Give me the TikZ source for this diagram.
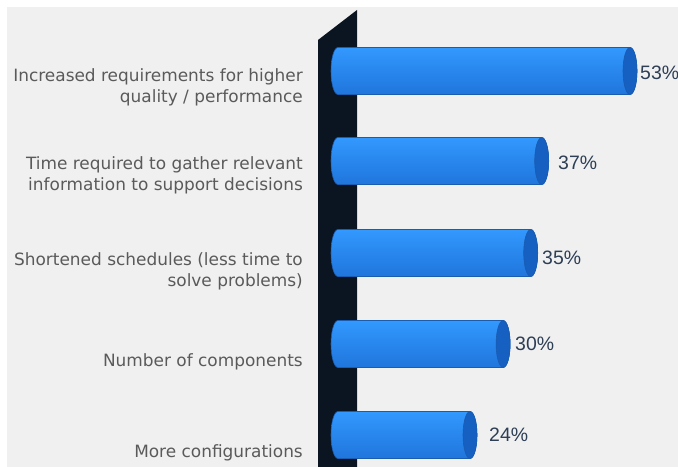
\documentclass[tikz,border=0pt]{standalone}
\usepackage{fontspec}
\setmainfont{DejaVu Sans}
\newfontfamily\pctfont{Liberation Sans}
\definecolor{bgc}{HTML}{F0F0F0}
\definecolor{wallc}{HTML}{0B1521}
\definecolor{bbot}{HTML}{1450A8}
\definecolor{bbotb}{HTML}{1C6FD6}
\definecolor{bmid}{HTML}{2A8AF0}
\definecolor{blight}{HTML}{3399FF}
\definecolor{btop}{HTML}{2B85E8}
\definecolor{bedge}{HTML}{1A5CB0}
\definecolor{capc}{HTML}{1660C2}
\definecolor{labc}{HTML}{5A5A5A}
\definecolor{pctc}{HTML}{2D3E55}
\pgfdeclareverticalshading{barshade}{100bp}{color(0bp)=(bbot); color(15bp)=(bbotb); color(55bp)=(bmid); color(75bp)=(blight); color(95bp)=(btop); color(100bp)=(btop)}
\newcommand\drawbar[2]{%
  \pgfmathsetmacro\rc{#2-7}%
  \path[shading=barshade, draw=bedge, line width=0.6bp]
    (\rc,#1-23.5) -- (338,#1-23.5)
    arc[start angle=-90, end angle=-270, x radius=7, y radius=23.5]
    -- (\rc,#1+23.5)
    arc[start angle=90, end angle=-90, x radius=7, y radius=23.5] -- cycle;
  \fill[capc, draw=bedge, line width=0.6bp] (\rc,#1) ellipse[x radius=7, y radius=23.5];
}
\tikzset{
  lab/.style={anchor=base east, inner sep=0pt, align=right, text=labc,
    font=\fontsize{17}{21.5}\selectfont},
  pct/.style={anchor=base west, inner sep=0pt, text=pctc,
    font=\pctfont\fontsize{19.5}{22}\selectfont}
}
\begin{document}
\begin{tikzpicture}[x=1bp, y=-1bp]
\useasboundingbox (0,0) rectangle (678,467);
\fill[white] (0,0) rectangle (678,467);
\fill[bgc] (7,7) rectangle (678,467);
% wall
\fill[wallc] (318,40) -- (357,10) -- (357,467) -- (318,467) -- cycle;
% bars
\drawbar{71}{637.0}
\drawbar{161}{548.7}
\drawbar{253}{537.7}
\drawbar{344}{510.1}
\drawbar{435}{477.0}
% values
\node[pct] (v1) at (640,79.5) {53\%};
\node[pct] (v2) at (558,170) {37\%};
\node[pct] (v3) at (542,265) {35\%};
\node[pct] (v4) at (515,350.5) {30\%};
\node[pct] (v5) at (489,441.5) {24\%};
% category labels (base = last line)
\node[lab] (l1) at (303,103) {Increased requirements for higher\\quality / performance};
\node[lab] (l2) at (303,191) {Time required to gather relevant\\information to support decisions};
\node[lab] (l3) at (303,287) {Shortened schedules (less time to\\solve problems)};
\node[lab] (l4) at (303,366) {Number of components};
\node[lab] (l5) at (303,457) {More configurations};
\end{tikzpicture}
\end{document}
